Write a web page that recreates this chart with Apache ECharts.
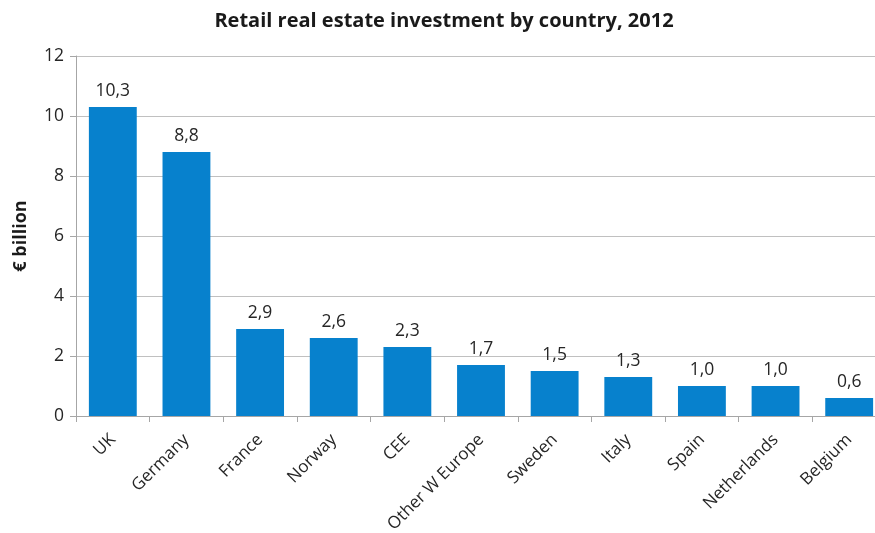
<!DOCTYPE html>
<html>
<head>
<meta charset="utf-8">
<script src="https://cdn.jsdelivr.net/npm/echarts@6/dist/echarts.min.js"></script>
<style>
  html, body { margin: 0; padding: 0; background: #fff; overflow: hidden; }
  #frame { width: 875px; height: 533px; overflow: hidden; }
  #chart { width: 888px; height: 533px; }
</style>
</head>
<body>
<div id="frame"><div id="chart"></div></div>
<script>
// Retail real estate investment by country, 2012 (€ billion)
const countries = ['UK', 'Germany', 'France', 'Norway', 'CEE', 'Other W Europe',
  'Sweden', 'Italy', 'Spain', 'Netherlands', 'Belgium'];
const investment = [10.3, 8.8, 2.9, 2.6, 2.3, 1.7, 1.5, 1.3, 1.0, 1.0, 0.6];
const yTicks = { min: 0, max: 12, interval: 2 };

const font = '"Open Sans", "Liberation Sans", sans-serif';
const chart = echarts.init(document.getElementById('chart'), null, { renderer: 'canvas' });

chart.setOption({
  animation: false,
  backgroundColor: '#ffffff',
  title: {
    text: 'Retail real estate investment by country, 2012',
    left: 'center',
    top: 6,
    textStyle: { fontFamily: font, fontSize: 20, fontWeight: 'bold', color: '#1a1a1a' }
  },
  grid: { left: 76, top: 56, right: 2, height: 360, containLabel: false, outerBoundsMode: 'none' },
  xAxis: {
    type: 'category',
    data: countries,
    boundaryGap: true,
    axisLine: { lineStyle: { color: '#a6a6a6', width: 1 } },
    axisTick: { show: true, alignWithLabel: false, length: 6, lineStyle: { color: '#a6a6a6' } },
    axisLabel: {
      interval: 0,
      rotate: 45,
      margin: 21,
      fontFamily: font,
      fontSize: 17,
      color: '#262626'
    }
  },
  yAxis: {
    type: 'value',
    min: yTicks.min,
    max: yTicks.max,
    interval: yTicks.interval,
    name: '€ billion',
    nameLocation: 'middle',
    nameGap: 46,
    nameRotate: 90,
    nameTextStyle: { fontFamily: font, fontSize: 18, fontWeight: 'bold', color: '#1a1a1a' },
    axisLine: { show: true, lineStyle: { color: '#a6a6a6' } },
    axisTick: { show: true, length: 6, lineStyle: { color: '#a6a6a6' } },
    axisLabel: { fontFamily: font, fontSize: 17.5, color: '#262626', margin: 12 },
    splitLine: { show: true, lineStyle: { color: '#c0c0c0', width: 1 } }
  },
  series: [{
    type: 'bar',
    data: investment,
    barCategoryGap: '35%',
    itemStyle: { color: '#0781cd' },
    label: {
      show: true,
      position: 'top',
      distance: 7,
      fontFamily: font,
      fontSize: 17.5,
      color: '#262626',
      formatter: p => p.value.toFixed(1).replace('.', ',')
    }
  }]
});
</script>
</body>
</html>
